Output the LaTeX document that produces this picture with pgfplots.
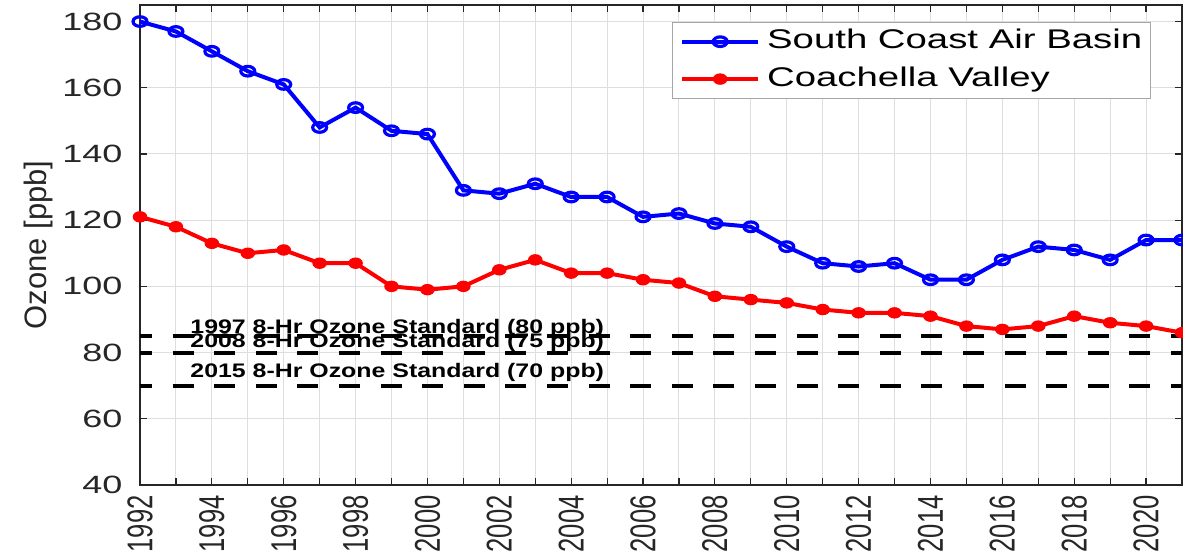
\documentclass[border=0pt]{standalone}
\usepackage{pgfplots}
\pgfplotsset{compat=1.18}
\usepackage{fontspec}
\setmainfont{Liberation Sans}
\definecolor{axgray}{RGB}{38,38,38}
\definecolor{gridgray}{RGB}{222,222,222}
\begin{document}
\begin{tikzpicture}
\begin{axis}[
  scale only axis, width=521pt, height=240pt,
  xmin=1992, xmax=2021, ymin=40, ymax=185,
  xtick={1992,1994,...,2020}, minor xtick={1993,1995,...,2021},
  ytick={40,60,...,180},
  grid=both,
  major grid style={gridgray, line width=0.5pt},
  minor grid style={gridgray, line width=0.5pt},
  tick align=inside, major tick length=3.5pt, minor tick length=3.5pt,
  every tick/.style={axgray, line width=0.6pt},
  axis line style={axgray, line width=0.75pt},
  /pgf/number format/assume math mode=true,
  xticklabel={\scalebox{1}[1.4]{\pgfmathprintnumber[1000 sep=]{\tick}}},
  x tick label style={font=\fontsize{12.8}{14}\selectfont, text=axgray, inner sep=0pt, rotate=90, anchor=east},
  xticklabel shift=5pt,
  y tick label style={font=\fontsize{12.5}{14}\selectfont, text=axgray, inner sep=0pt, xscale=1.44, anchor=east},
  yticklabel shift=8.5pt,
  ylabel={Ozone [ppb]},
  ylabel style={font=\fontsize{15.5}{17}\selectfont, text=axgray, inner sep=0pt, at={(axis description cs:-0.083,0.5)}, anchor=south},
  legend style={at={(rel axis cs:0.970,0.9646)}, anchor=north east, draw=gray!70, line width=0.5pt, fill=white,
    inner xsep=4pt, inner ysep=3.25pt, row sep=6pt, column sep=3.5pt,
    nodes={inner sep=0pt, text height=9.9pt, text depth=2.8pt},
    font=\fontsize{13.5}{15}\selectfont},
  legend cell align=left,
  legend image code/.code={\draw[mark repeat=2, mark phase=2, #1] plot coordinates {(0pt,0pt) (19pt,0pt) (38pt,0pt)};},
]
\addplot[blue, line width=2pt, mark=o, mark size=2.4pt, mark options={xscale=1.45, line width=1.6pt, solid}] table {
x y
1992 180
1993 177
1994 171
1995 165
1996 161
1997 148
1998 154
1999 147
2000 146
2001 129
2002 128
2003 131
2004 127
2005 127
2006 121
2007 122
2008 119
2009 118
2010 112
2011 107
2012 106
2013 107
2014 102
2015 102
2016 108
2017 112
2018 111
2019 108
2020 114
2021 114
};
\addlegendentry{\scalebox{1.42}[1]{South Coast Air Basin}}
\addplot[red, line width=2pt, mark=*, mark size=2.6pt, mark options={xscale=1.3, fill=red, line width=0.5pt, solid}] table {
x y
1992 121
1993 118
1994 113
1995 110
1996 111
1997 107
1998 107
1999 100
2000 99
2001 100
2002 105
2003 108
2004 104
2005 104
2006 102
2007 101
2008 97
2009 96
2010 95
2011 93
2012 92
2013 92
2014 91
2015 88
2016 87
2017 88
2018 91
2019 89
2020 88
2021 86
};
\addlegendentry{\scalebox{1.42}[1]{Coachella Valley}}
\addplot[black, line width=2pt, dash pattern=on 10.5pt off 10.3pt, dash phase=4.5pt, forget plot] coordinates {(1992,85) (2021,85)};
\addplot[black, line width=2pt, dash pattern=on 10.5pt off 10.3pt, dash phase=4.5pt, forget plot] coordinates {(1992,80) (2021,80)};
\addplot[black, line width=2pt, dash pattern=on 10.5pt off 10.3pt, dash phase=4.5pt, forget plot] coordinates {(1992,70) (2021,70)};
\node[font=\bfseries\fontsize{9.8}{11}\selectfont, xscale=1.27, anchor=base west, inner sep=0pt] at (axis cs:1993.39,85.9) {1997 8-Hr Ozone Standard (80 ppb)};
\node[font=\bfseries\fontsize{9.8}{11}\selectfont, xscale=1.27, anchor=base west, inner sep=0pt] at (axis cs:1993.39,81.4) {2008 8-Hr Ozone Standard (75 ppb)};
\node[font=\bfseries\fontsize{9.8}{11}\selectfont, xscale=1.27, anchor=base west, inner sep=0pt] at (axis cs:1993.39,72.6) {2015 8-Hr Ozone Standard (70 ppb)};
\end{axis}
\pgfresetboundingbox
\path[use as bounding box] ([xshift=-70pt,yshift=-37pt]current axis.south west) rectangle ([xshift=0.5pt,yshift=2.5pt]current axis.north east);
\end{tikzpicture}
\end{document}
